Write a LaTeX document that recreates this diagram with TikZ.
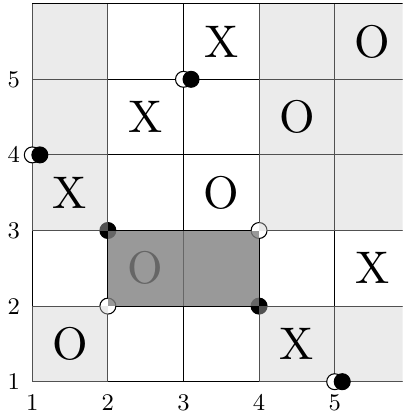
\documentclass[tikz,border=0pt]{standalone}
\usepackage{xcolor}
\usepackage{graphicx}
\usepackage{tikz}
\usetikzlibrary{positioning}
\definecolor{boardgrey}{HTML}{CCCCCC}
\definecolor{boxgrey}{HTML}{808080}
\newcommand{\bigpiece}[1]{\scalebox{1.72}{#1}}

\begin{document}
\begin{tikzpicture}[
  cell/.style={fill=boardgrey,fill opacity=0.4},
  box/.style={fill=boxgrey,fill opacity=0.8},
  piece/.style={font=\normalsize,inner sep=0pt},
  ticklbl/.style={font=\small,inner sep=4.5pt},
  wdot/.style={circle,draw,fill=white,inner sep=0pt,minimum size=6pt},
  bdot/.style={circle,draw,fill=black,inner sep=0pt,minimum size=6pt}
]
\clip (0.573,0.586) rectangle (5.9,6.049);
\draw (1,1) grid (6,6);
% corners of the box
\node[bdot] (k23) at (2,3) {};
\node[wdot] (k22) at (2,2) {};
\node[wdot] (k43) at (4,3) {};
\node[bdot] (k42) at (4,2) {};
% shaded cells
\foreach \i in {1,4,5}
  \foreach \j in {1,3,4,5}
    \fill[cell] (\i,\j) rectangle ++(1,1);
\node[piece] (c22) at (2.5,2.5) {\bigpiece{O}};
\fill[box] (k22.center) rectangle (k43.center);
\node[piece] (c35) at (3.5,5.5) {\bigpiece{X}};
\node[piece] (c55) at (5.5,5.5) {\bigpiece{O}};
\node[piece] (c24) at (2.5,4.5) {\bigpiece{X}};
\node[piece] (c44) at (4.5,4.5) {\bigpiece{O}};
\node[piece] (c13) at (1.5,3.5) {\bigpiece{X}};
\node[piece] (c33) at (3.5,3.5) {\bigpiece{O}};
\node[piece] (c52) at (5.5,2.5) {\bigpiece{X}};
\node[piece] (c11) at (1.5,1.5) {\bigpiece{O}};
\node[piece] (c41) at (4.5,1.5) {\bigpiece{X}};
% point pairs
\node[wdot] (p35) at (3,5) {};
\node[bdot] (q35) at (3.1,5) {};
\node[wdot] (p14) at (1,4) {};
\node[bdot] (q14) at (1.1,4) {};
\node[wdot] (p51) at (5,1) {};
\node[bdot] (q51) at (5.1,1) {};
% axis labels
\foreach \i in {1,...,5} {
  \node[ticklbl,below] (xl\i) at (\i,1) {\i};
  \node[ticklbl,left] (yl\i) at (1,\i) {\i};
}
\end{tikzpicture}
\end{document}
